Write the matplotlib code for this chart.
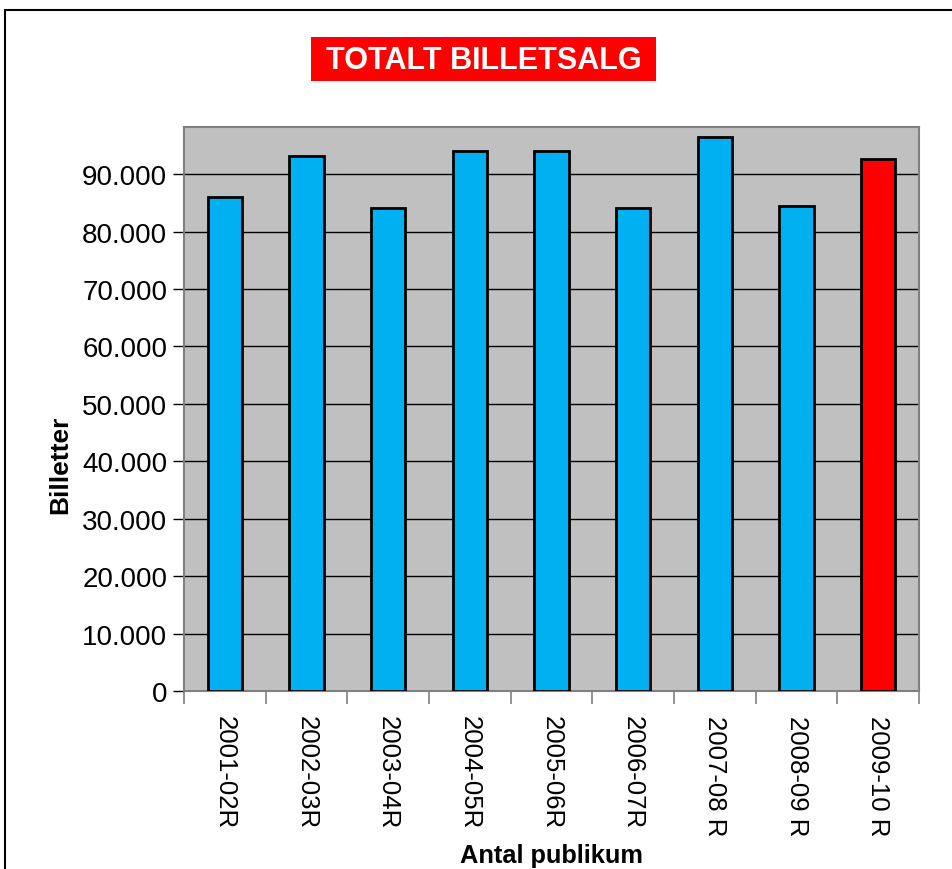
import matplotlib.pyplot as plt
import numpy as np
from matplotlib.patches import Rectangle
from matplotlib.ticker import FuncFormatter, FixedLocator

plt.rcParams['font.family'] = ['Liberation Sans', 'DejaVu Sans']

seasons = ["2001-02R", "2002-03R", "2003-04R", "2004-05R", "2005-06R",
           "2006-07R", "2007-08 R", "2008-09 R", "2009-10 R"]
tickets = [86000, 93100, 84100, 94000, 94000, 84100, 96400, 84400, 92600]
colors = ["#00B0F0"] * 8 + ["#FF0000"]

W, H = 952, 870
fig = plt.figure(figsize=(W / 100, H / 100), dpi=100)
# outer chart frame (cut off at right and bottom like the screenshot)
fig.patches.append(Rectangle((5 / W, -0.1), 1.2, 1 - 11 / H + 0.1,
                             transform=fig.transFigure, fill=False,
                             edgecolor="black", linewidth=1.5))

ax = fig.add_axes([184 / W, 1 - 692 / H, 735 / W, 564 / H])
ax.set_facecolor("#C0C0C0")
x = np.arange(len(seasons))
ax.bar(x, tickets, width=0.42, color=colors, edgecolor="black", linewidth=2, zorder=3)

ax.set_xlim(-0.5, len(seasons) - 0.5)
ax.set_ylim(0, 98200)
ax.set_yticks(np.arange(0, 90001, 10000))
ax.yaxis.set_major_formatter(FuncFormatter(lambda v, p: f"{int(v):,}".replace(",", ".")))
ax.grid(axis="y", color="black", linewidth=1, zorder=1)

ax.set_xticks(x)
ax.set_xticklabels(seasons, rotation=270, fontsize=18.5)
ax.xaxis.set_minor_locator(FixedLocator(np.arange(-0.5, len(seasons), 1)))
ax.tick_params(axis="x", which="major", length=0, pad=17)
ax.tick_params(axis="x", which="minor", length=9, color="#808080", width=1.2)
ax.tick_params(axis="y", length=8, width=1, labelsize=20, pad=4)

for s in ax.spines.values():
    s.set_color("#808080")
    s.set_linewidth(1.5)

ax.set_ylabel("Billetter", fontsize=19, fontweight="bold")
ax.yaxis.set_label_coords(-(184 - 60) / 735, (692 - 465) / 564)
ax.yaxis.label.set_va("center")
ax.set_xlabel("Antal publikum", fontsize=18.3, fontweight="bold", labelpad=6)

# title in red box
fig.patches.append(Rectangle((311 / W, 1 - 82 / H), 345 / W, 44 / H,
                             transform=fig.transFigure, facecolor="#FF0000",
                             edgecolor="none"))
fig.text(483.5 / W, 1 - 61 / H, "TOTALT BILLETSALG", ha="center", va="center",
         fontsize=22, fontweight="bold", color="white")

fig.savefig("out.png", dpi=100)
